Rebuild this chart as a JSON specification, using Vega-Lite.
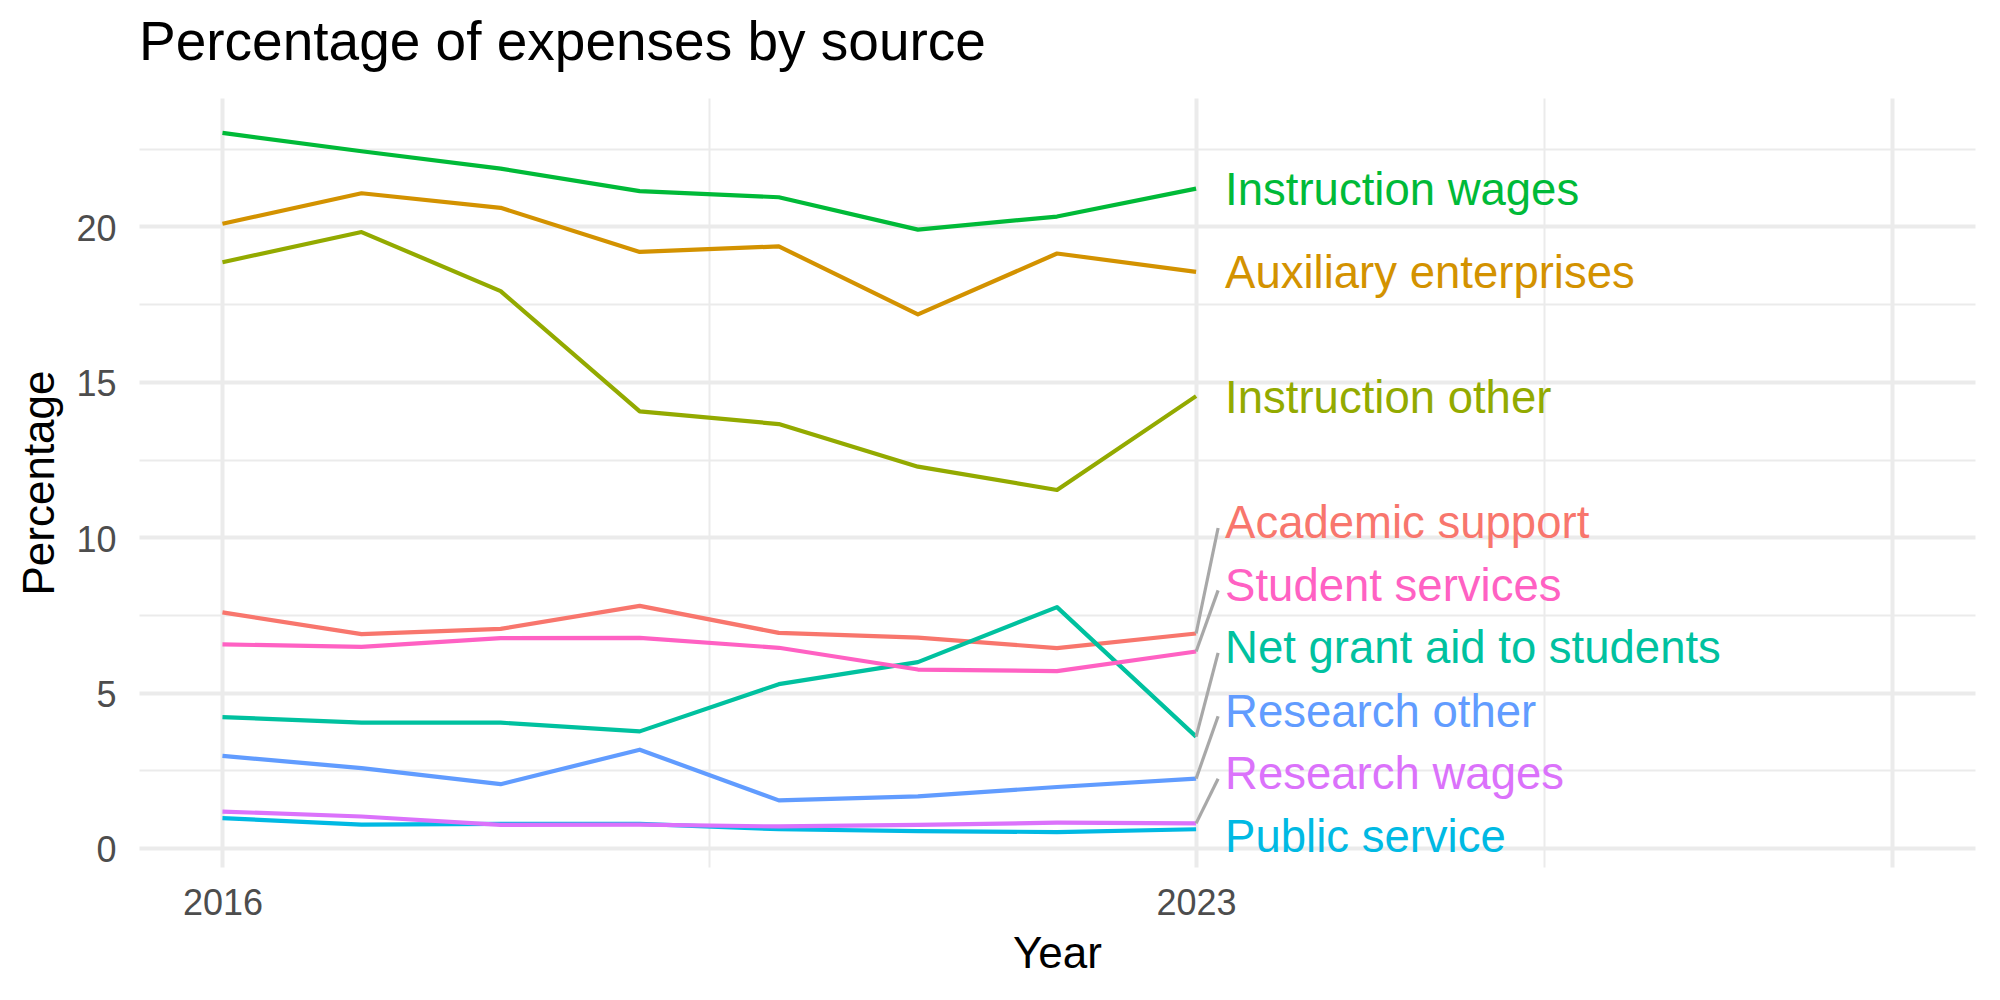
{
  "$schema": "https://vega.github.io/schema/vega-lite/v6.json",
  "width": 1836,
  "height": 769,
  "autosize": {"type": "none"},
  "padding": {"left": 139, "top": 98, "right": 25, "bottom": 133},
  "background": "white",
  "config": {"view": {"stroke": null}, "font": "Liberation Sans"},
  "title": {
    "text": "Percentage of expenses by source",
    "anchor": "start",
    "frame": "group",
    "font": "Liberation Sans",
    "fontSize": 55,
    "fontWeight": "normal",
    "color": "#000000",
    "baseline": "alphabetic",
    "offset": 24,
    "dy": 41
  },
  "datasets": {
    "expenses": [
      {"category": "Academic support", "year": 2016, "percentage": 7.58},
      {"category": "Academic support", "year": 2017, "percentage": 6.88},
      {"category": "Academic support", "year": 2018, "percentage": 7.05},
      {"category": "Academic support", "year": 2019, "percentage": 7.79},
      {"category": "Academic support", "year": 2020, "percentage": 6.92},
      {"category": "Academic support", "year": 2021, "percentage": 6.77},
      {"category": "Academic support", "year": 2022, "percentage": 6.43},
      {"category": "Academic support", "year": 2023, "percentage": 6.90},
      {"category": "Auxiliary enterprises", "year": 2016, "percentage": 20.09},
      {"category": "Auxiliary enterprises", "year": 2017, "percentage": 21.07},
      {"category": "Auxiliary enterprises", "year": 2018, "percentage": 20.60},
      {"category": "Auxiliary enterprises", "year": 2019, "percentage": 19.18},
      {"category": "Auxiliary enterprises", "year": 2020, "percentage": 19.36},
      {"category": "Auxiliary enterprises", "year": 2021, "percentage": 17.17},
      {"category": "Auxiliary enterprises", "year": 2022, "percentage": 19.13},
      {"category": "Auxiliary enterprises", "year": 2023, "percentage": 18.54},
      {"category": "Instruction other", "year": 2016, "percentage": 18.85},
      {"category": "Instruction other", "year": 2017, "percentage": 19.82},
      {"category": "Instruction other", "year": 2018, "percentage": 17.92},
      {"category": "Instruction other", "year": 2019, "percentage": 14.05},
      {"category": "Instruction other", "year": 2020, "percentage": 13.64},
      {"category": "Instruction other", "year": 2021, "percentage": 12.27},
      {"category": "Instruction other", "year": 2022, "percentage": 11.52},
      {"category": "Instruction other", "year": 2023, "percentage": 14.54},
      {"category": "Instruction wages", "year": 2016, "percentage": 23.01},
      {"category": "Instruction wages", "year": 2017, "percentage": 22.42},
      {"category": "Instruction wages", "year": 2018, "percentage": 21.86},
      {"category": "Instruction wages", "year": 2019, "percentage": 21.14},
      {"category": "Instruction wages", "year": 2020, "percentage": 20.94},
      {"category": "Instruction wages", "year": 2021, "percentage": 19.90},
      {"category": "Instruction wages", "year": 2022, "percentage": 20.32},
      {"category": "Instruction wages", "year": 2023, "percentage": 21.22},
      {"category": "Net grant aid to students", "year": 2016, "percentage": 4.21},
      {"category": "Net grant aid to students", "year": 2017, "percentage": 4.03},
      {"category": "Net grant aid to students", "year": 2018, "percentage": 4.03},
      {"category": "Net grant aid to students", "year": 2019, "percentage": 3.75},
      {"category": "Net grant aid to students", "year": 2020, "percentage": 5.27},
      {"category": "Net grant aid to students", "year": 2021, "percentage": 5.98},
      {"category": "Net grant aid to students", "year": 2022, "percentage": 7.75},
      {"category": "Net grant aid to students", "year": 2023, "percentage": 3.58},
      {"category": "Public service", "year": 2016, "percentage": 0.96},
      {"category": "Public service", "year": 2017, "percentage": 0.75},
      {"category": "Public service", "year": 2018, "percentage": 0.77},
      {"category": "Public service", "year": 2019, "percentage": 0.77},
      {"category": "Public service", "year": 2020, "percentage": 0.60},
      {"category": "Public service", "year": 2021, "percentage": 0.54},
      {"category": "Public service", "year": 2022, "percentage": 0.51},
      {"category": "Public service", "year": 2023, "percentage": 0.60},
      {"category": "Research other", "year": 2016, "percentage": 2.96},
      {"category": "Research other", "year": 2017, "percentage": 2.57},
      {"category": "Research other", "year": 2018, "percentage": 2.05},
      {"category": "Research other", "year": 2019, "percentage": 3.16},
      {"category": "Research other", "year": 2020, "percentage": 1.53},
      {"category": "Research other", "year": 2021, "percentage": 1.66},
      {"category": "Research other", "year": 2022, "percentage": 1.96},
      {"category": "Research other", "year": 2023, "percentage": 2.23},
      {"category": "Research wages", "year": 2016, "percentage": 1.17},
      {"category": "Research wages", "year": 2017, "percentage": 1.01},
      {"category": "Research wages", "year": 2018, "percentage": 0.74},
      {"category": "Research wages", "year": 2019, "percentage": 0.75},
      {"category": "Research wages", "year": 2020, "percentage": 0.69},
      {"category": "Research wages", "year": 2021, "percentage": 0.74},
      {"category": "Research wages", "year": 2022, "percentage": 0.81},
      {"category": "Research wages", "year": 2023, "percentage": 0.79},
      {"category": "Student services", "year": 2016, "percentage": 6.55},
      {"category": "Student services", "year": 2017, "percentage": 6.47},
      {"category": "Student services", "year": 2018, "percentage": 6.75},
      {"category": "Student services", "year": 2019, "percentage": 6.76},
      {"category": "Student services", "year": 2020, "percentage": 6.44},
      {"category": "Student services", "year": 2021, "percentage": 5.74},
      {"category": "Student services", "year": 2022, "percentage": 5.69},
      {"category": "Student services", "year": 2023, "percentage": 6.32}
    ],
    "label_positions": [
      {"category": "Academic support", "label_pos": 10.49},
      {"category": "Auxiliary enterprises", "label_pos": 18.54},
      {"category": "Instruction other", "label_pos": 14.54},
      {"category": "Instruction wages", "label_pos": 21.22},
      {"category": "Net grant aid to students", "label_pos": 6.47},
      {"category": "Public service", "label_pos": 0.40},
      {"category": "Research other", "label_pos": 4.43},
      {"category": "Research wages", "label_pos": 2.42},
      {"category": "Student services", "label_pos": 8.48}
    ]
  },
  "data": {"name": "expenses"},
  "encoding": {
    "x": {
      "field": "year",
      "type": "quantitative",
      "scale": {"domain": [2015.4, 2028.6], "nice": false, "zero": false},
      "axis": {
        "title": "Year",
        "values": [2016, 2019.5, 2023, 2025.5, 2028],
        "format": "d",
        "labelExpr": "datum.value == 2016 || datum.value == 2023 ? datum.label : ''",
        "labelOverlap": false,
        "labelFlush": false,
        "grid": true,
        "gridColor": "#EBEBEB",
        "gridWidth": {"condition": {"test": "datum.value == 2019.5 || datum.value == 2025.5", "value": 2}, "value": 4},
        "domain": false,
        "ticks": false,
        "labelFont": "Liberation Sans",
        "labelFontSize": 36,
        "labelColor": "#4D4D4D",
        "labelPadding": 19,
        "titleFont": "Liberation Sans",
        "titleFontSize": 44,
        "titleFontWeight": "normal",
        "titleColor": "#000000",
        "titleBaseline": "alphabetic",
        "titleY": 100
      }
    },
    "y": {
      "field": "percentage",
      "type": "quantitative",
      "scale": {"domain": [-0.615, 24.135], "nice": false, "zero": false},
      "axis": {
        "title": "Percentage",
        "values": [0, 2.5, 5, 7.5, 10, 12.5, 15, 17.5, 20, 22.5],
        "labelExpr": "datum.value % 5 === 0 ? datum.label : ''",
        "labelOverlap": false,
        "grid": true,
        "gridColor": "#EBEBEB",
        "gridWidth": {"condition": {"test": "datum.value % 5 !== 0", "value": 2}, "value": 4},
        "domain": false,
        "ticks": false,
        "labelFont": "Liberation Sans",
        "labelFontSize": 36,
        "labelColor": "#4D4D4D",
        "labelPadding": 23,
        "labelOffset": 3,
        "titleFont": "Liberation Sans",
        "titleFontSize": 44,
        "titleFontWeight": "normal",
        "titleColor": "#000000",
        "titleBaseline": "alphabetic",
        "titleX": -86
      }
    },
    "color": {
      "field": "category",
      "type": "nominal",
      "scale": {
        "domain": ["Academic support", "Auxiliary enterprises", "Instruction other", "Instruction wages", "Net grant aid to students", "Public service", "Research other", "Research wages", "Student services"],
        "range": ["#F8766D", "#D39200", "#93AA00", "#00BA38", "#00C19F", "#00B9E3", "#619CFF", "#DB72FB", "#FF61C3"]
      },
      "legend": null
    }
  },
  "layer": [
    {
      "mark": {"type": "line", "strokeWidth": 4.2, "strokeJoin": "round", "strokeCap": "butt"}
    },
    {
      "transform": [
        {"filter": "datum.year == 2023"},
        {"lookup": "category", "from": {"data": {"name": "label_positions"}, "key": "category", "fields": ["label_pos"]}},
        {"filter": "abs(datum.label_pos - datum.percentage) > 0.5"}
      ],
      "mark": {"type": "rule", "strokeWidth": 3.2, "x2Offset": 22, "y2Offset": 6},
      "encoding": {
        "x2": {"field": "year"},
        "y2": {"field": "label_pos"},
        "color": {"value": "#A8A8A8"}
      }
    },
    {
      "transform": [
        {"filter": "datum.year == 2023"},
        {"lookup": "category", "from": {"data": {"name": "label_positions"}, "key": "category", "fields": ["label_pos"]}}
      ],
      "mark": {"type": "text", "align": "left", "baseline": "middle", "dx": 29, "dy": 2.5, "fontSize": 45.5, "font": "Liberation Sans"},
      "encoding": {
        "y": {"field": "label_pos", "type": "quantitative"},
        "text": {"field": "category"}
      }
    }
  ]
}
